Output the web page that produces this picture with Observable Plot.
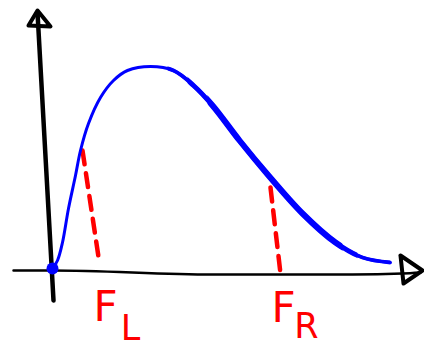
<!DOCTYPE html>
<html>
<head>
<meta charset="utf-8">
<script src="https://cdn.jsdelivr.net/npm/d3@7"></script>
<script src="https://cdn.jsdelivr.net/npm/@observablehq/plot@0.6"></script>
<style>
  html, body { margin: 0; padding: 0; background: #fff; }
  #chart svg { display: block; }
</style>
</head>
<body>
<div id="chart"></div>
<script>
// Density curve (value, density), origin at the blue dot
const curveX = [0, 5, 10, 16, 23, 28, 36, 48, 61, 75, 98, 121, 141, 160, 187, 216, 250, 283, 310, 338];
const curveY = [0, 8, 26, 60, 93, 118, 145, 171, 188, 198, 202, 198, 183, 163, 128, 93, 55, 26, 11, 6];
// Hand-drawn axes
const yAxisX = [1, -15];
const yAxisY = [-32, 256];
const yArrowX = [-24, -15, -2, -24];
const yArrowY = [243, 258, 242, 243];
const xAxisX = [-39, 0, 160, 300, 350, 368];
const xAxisY = [-2, -2, -6, -6, -5, -4];
const xArrowX = [348, 370, 351, 348];
const xArrowY = [13, -2, -15, 13];
// Cut-off markers F_L and F_R
const cutNames = ["L", "R"];
const cutTopX = [30, 218];
const cutTopY = [118, 81];
const cutBotX = [47, 228];
const cutBotY = [5, -5];
// Labels
const labelMain = ["F", "F"];
const labelSub = ["L", "R"];
const labelX = [53, 231];
const labelY = [-39, -40];
const subX = [78, 254];
const subY = [-60, -58];
// Pen pressure bands along the curve: [from, to] in value units
const bandFrom = [115, 135, 155];
const bandTo = [338, 305, 290];

const curve = curveX.map((x, i) => ({x, y: curveY[i]}));
const yAxis = yAxisX.map((x, i) => ({x, y: yAxisY[i]}));
const yArrow = yArrowX.map((x, i) => ({x, y: yArrowY[i]}));
const xAxis = xAxisX.map((x, i) => ({x, y: xAxisY[i]}));
const xArrow = xArrowX.map((x, i) => ({x, y: xArrowY[i]}));
const cuts = cutNames.map((n, i) => ({n, x1: cutTopX[i], y1: cutTopY[i], x2: cutBotX[i], y2: cutBotY[i]}));
const labels = labelMain.map((t, i) => ({t, x: labelX[i], y: labelY[i]}));
const subs = labelSub.map((t, i) => ({t, x: subX[i], y: subY[i]}));

const font = "'DejaVu Sans', sans-serif";
const penWidths = [3, 3.9, 4.9, 6];
const blue = (w) => Plot.line(curve, {x: "x", y: "y", stroke: "#00f", strokeWidth: w, curve: "catmull-rom", strokeLinecap: "round"});
const chart = Plot.plot({
  width: 424,
  height: 349,
  margin: 0,
  x: {domain: [-52, 372], axis: null},
  y: {domain: [-81, 268], axis: null},
  style: {background: "#fff", overflow: "visible"},
  marks: [
    Plot.line(xAxis, {x: "x", y: "y", stroke: "#000", strokeWidth: 2.5, curve: "monotone-x"}),
    Plot.line(xArrow, {x: "x", y: "y", stroke: "#000", strokeWidth: 4, strokeLinejoin: "round", strokeLinecap: "round"}),
    Plot.line(yAxis, {x: "x", y: "y", stroke: "#000", strokeWidth: 4.5, strokeLinecap: "round"}),
    Plot.line(yArrow, {x: "x", y: "y", stroke: "#000", strokeWidth: 4, strokeLinejoin: "round"}),
    Plot.link(cuts, {x1: "x1", y1: "y1", x2: "x2", y2: "y2", stroke: "#f00", strokeWidth: 4.5, strokeDasharray: "14,9", strokeLinecap: "round"}),
    ...penWidths.map(blue),
    Plot.dot(curve.slice(0, 1), {x: "x", y: "y", r: 6, fill: "#00f"}),
    Plot.text(labels, {x: "x", y: "y", text: "t", fill: "#f00", fontSize: 42, fontFamily: font, textAnchor: "middle", lineAnchor: "middle"}),
    Plot.text(subs, {x: "x", y: "y", text: "t", fill: "#f00", fontSize: 35, fontFamily: font, textAnchor: "middle", lineAnchor: "middle"})
  ]
});
// clip the heavier strokes to their stretch of the curve
const xs = chart.scale("x");
const svg = d3.select(chart);
const defs = svg.append("defs");
const blueGroups = svg.selectAll("g").filter(function () {
  return this.getAttribute("stroke") === "#00f";
}).nodes();
bandFrom.forEach((a, i) => {
  const id = "pen-clip-" + (i + 1);
  const x0 = xs.apply(a), x1 = xs.apply(bandTo[i]);
  defs.append("clipPath").attr("id", id)
    .append("rect").attr("x", x0).attr("y", 0).attr("width", x1 - x0).attr("height", 349);
  const g = blueGroups.find(n => +n.getAttribute("stroke-width") === penWidths[i + 1]);
  if (g) g.setAttribute("clip-path", `url(#${id})`);
});
document.getElementById("chart").appendChild(chart);
</script>
</body>
</html>
